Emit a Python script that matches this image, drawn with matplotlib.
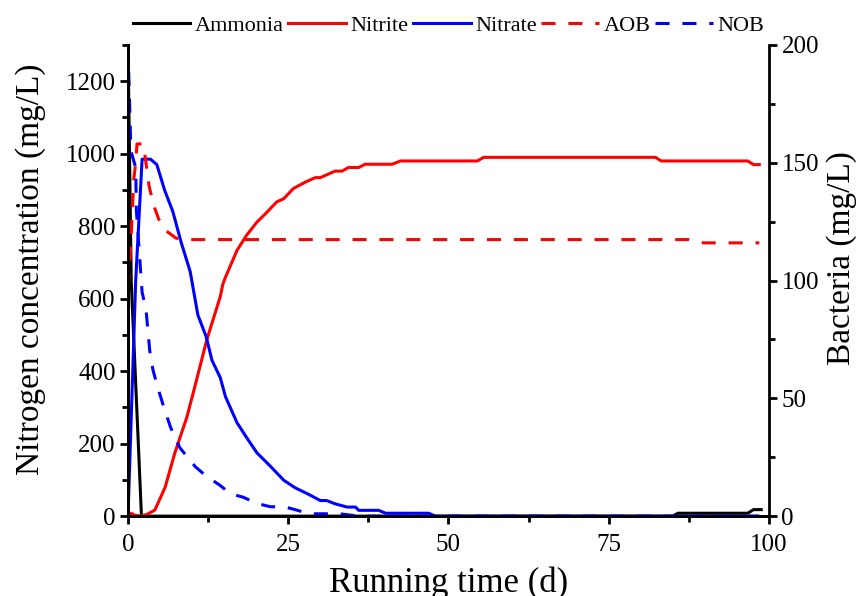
import matplotlib
matplotlib.use("Agg")
import matplotlib.pyplot as plt
from matplotlib.ticker import MultipleLocator

plt.rcParams['font.family'] = ['Liberation Serif', 'DejaVu Serif']
plt.rcParams['mathtext.fontset'] = 'stix'

# Nitrogen species (mg/L) over running time (d)
ammonia_t = [0, 0.5, 2.1, 85.0, 85.8, 96.7, 97.6, 98.8]
ammonia_v = [1300, 650, 0, 0, 8, 8, 18, 18]

nitrite_t = [0, 0.5, 1.0, 2.0, 3.0, 4.2, 5.8, 7.3, 9.2, 10.7, 12.3, 14.4, 14.8,
             15.2, 17.0, 18.5, 20.1, 21.7, 23.2, 24.3, 25.8, 27.7, 29.2, 30.0,
             32.3, 33.4, 34.4, 36.0, 37.0, 41.2, 42.5, 54.5, 55.5, 82.3, 83.2,
             96.7, 97.6, 98.5]
nitrite_v = [0, 8, 3, 0, 5, 17, 80, 174, 274, 376, 487, 606, 640,
             659, 733, 775, 811, 839, 867, 876, 904, 922, 934, 934,
             952, 952, 962, 962, 971, 971, 980, 980, 990, 990, 980,
             980, 970, 970]

nitrate_t = [0, 1.2, 2.2, 3.5, 4.5, 5.7, 7.0, 8.3, 9.7, 10.9, 12.2, 13.1, 14.4,
             15.2, 17.0, 18.5, 20.1, 22.2, 24.3, 26.1, 28.2, 30.0, 31.0, 32.3,
             34.2, 35.5, 36.0, 39.1, 40.2, 46.9, 48.0, 98.3]
nitrate_v = [0, 650, 985, 985, 970, 900, 840, 755, 675, 555, 495, 430, 382,
             330, 258, 217, 175, 138, 99, 78, 60, 43, 43, 34,
             25, 25, 16, 16, 8, 8, 0, 0]

# Bacteria (mg/L)
aob_t = [0, 0.3, 0.6, 0.9, 1.2, 1.4, 2.4, 2.8, 3.3, 4.0, 4.8, 6.0, 7.5, 8.5,
         87.5, 89.8, 98.5]
aob_v = [97, 108, 125, 143, 150, 158, 158, 150, 140, 132, 126, 121, 118, 117.4,
         117.4, 116, 116]

nob_t = [0, 0.45, 1.2, 1.3, 2.2, 2.8, 3.4, 3.9, 4.6, 5.5, 6.6, 7.4, 8.1, 9.3,
         10.5, 12.2, 14.4, 15.9, 18.0, 20.1, 22.2, 24.5, 26.4, 28.2, 33.0,
         36.0, 98.5]
nob_v = [200, 155, 148, 130, 95, 88, 70, 62, 55, 47, 38, 33, 29, 25,
         21, 17, 13, 9.6, 8, 5.4, 4, 3.9, 2.5, 1.0, 1.0,
         0, 0]

fig = plt.figure(figsize=(8.62, 5.96), dpi=100)
ax = fig.add_axes([0.1485, 0.134, 0.7435, 0.7905])
ax2 = ax.twinx()

lw = 2.2
dash = (0, (4.6, 4.2))
h1, = ax.plot(ammonia_t, ammonia_v, color='black', lw=lw, label='Ammonia')
h2, = ax.plot(nitrite_t, nitrite_v, color='#ff0000', lw=lw, label='Nitrite')
h3, = ax.plot(nitrate_t, nitrate_v, color='#0000ff', lw=lw, label='Nitrate')
h4, = ax2.plot(aob_t, aob_v, color='#ff0000', lw=lw, ls=dash,
               dash_capstyle='butt', label='AOB')
h5, = ax2.plot(nob_t, nob_v, color='#0000ff', lw=lw, ls=dash,
               dash_capstyle='butt', label='NOB')

ax.set_xlim(0, 100)
ax.set_ylim(0, 1300)
ax2.set_ylim(0, 200)

ax.xaxis.set_major_locator(MultipleLocator(25))
ax.xaxis.set_minor_locator(MultipleLocator(12.5))
ax.yaxis.set_major_locator(MultipleLocator(200))
ax.yaxis.set_minor_locator(MultipleLocator(100))
ax2.yaxis.set_major_locator(MultipleLocator(50))
ax2.yaxis.set_minor_locator(MultipleLocator(25))

for a in (ax, ax2):
    a.spines['top'].set_visible(False)
    for s in a.spines.values():
        s.set_linewidth(2.0)
    a.tick_params(which='major', direction='out', length=6, width=2.0,
                  labelsize=18, pad=3)
    a.tick_params(which='minor', direction='out', length=4, width=2.0)
ax.spines['right'].set_visible(False)
ax.tick_params(axis='x', which='major', pad=7)

ax.set_xlabel('Running time (d)', fontsize=25)
ax.xaxis.set_label_coords(0.5, -0.106)
ax.set_ylabel('Nitrogen concentration (mg/L)', fontsize=24)
ax.yaxis.set_label_coords(-0.128, 0.524)
ax2.set_ylabel('Bacteria (mg/L)', fontsize=24)
ax2.yaxis.set_label_coords(1.09, 0.548)

fig.legend(handles=[h1, h2, h3, h4, h5], loc='center', ncol=5,
           bbox_to_anchor=(0.52, 0.957), frameon=False, fontsize=16,
           handlelength=2.6, handletextpad=0.2, columnspacing=0.2,
           borderaxespad=0)

fig.savefig('out.png', dpi=100)
